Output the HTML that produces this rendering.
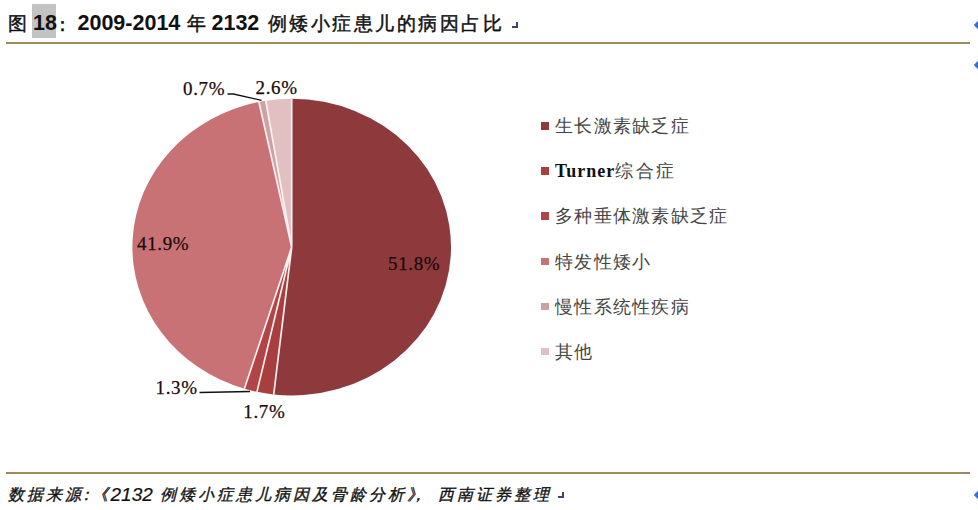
<!DOCTYPE html>
<html><head><meta charset="utf-8">
<style>
html,body{margin:0;padding:0;background:#fff;}
body{width:978px;height:510px;position:relative;overflow:hidden;font-family:"Liberation Sans",sans-serif;}
.t{position:absolute;white-space:nowrap;line-height:1;}
.tb{font-weight:bold;color:#111;}
.tc{font-size:19px;letter-spacing:2.5px;font-weight:normal;-webkit-text-stroke:0.45px #111;}
.td{font-size:21.5px;}
.hl{position:absolute;left:32px;top:4px;width:24px;height:34px;background:#c3c3c3;}
.rule{position:absolute;height:2px;background:linear-gradient(90deg,#8e8a70 0,#9f8e58 6px,#9f8e58 954px,#8a8a78 964px);}
.fi{font-style:italic;color:#111;}
.fc{font-size:16px;letter-spacing:3px;-webkit-text-stroke:0.35px #111;}
.fd{font-size:19px;-webkit-text-stroke:0.2px #111;}
.pm{position:absolute;width:4px;height:4px;border-right:2px solid #3a4868;border-bottom:2px solid #3a4868;}
.dia{position:absolute;width:6px;height:6px;background:#3572cc;transform:rotate(45deg);}
svg{position:absolute;left:0;top:0;}
.lbl{font-family:"Liberation Serif",serif;font-size:19px;fill:#1a0a0a;letter-spacing:0.65px;stroke:#1a0a0a;stroke-width:0.25px;}
.leg{font-size:18px;color:#444;letter-spacing:1.3px;}
.sq{position:absolute;left:541px;width:7.5px;height:7.5px;}
</style></head><body>
<div class="hl"></div>
<div class="t tb tc" style="left:8px;top:14px;">图</div>
<div class="t tb td" style="left:33px;top:12.5px;">18</div>
<div class="t tb tc" style="left:52.5px;top:15px;">：</div>
<div class="t tb td" style="left:77.5px;top:12.5px;">2009-2014</div>
<div class="t tb tc" style="left:186.5px;top:14px;">年</div>
<div class="t tb td" style="left:211.5px;top:12.5px;">2132</div>
<div class="t tb tc" style="left:267.5px;top:14px;">例矮小症患儿的病因占比</div>
<div class="pm" style="left:512px;top:22px;"></div>
<div class="rule" style="left:6px;top:42px;width:964px;"></div>
<div class="dia" style="left:975px;top:21.5px;"></div>
<div class="dia" style="left:975px;top:61.5px;"></div>

<svg width="978" height="510" viewBox="0 0 978 510">
 <g>
  <path fill="#8e3a3c" d="M291.7 247.1 L291.70 98.80 A159.3 148.3 0 1 1 273.72 394.45 Z"/>
  <path fill="#a83e3e" d="M291.7 247.1 L273.72 394.45 A159.3 148.3 0 0 1 256.95 391.83 Z"/>
  <path fill="#b04447" d="M291.7 247.1 L256.95 391.83 A159.3 148.3 0 0 1 244.38 388.71 Z"/>
  <path fill="#c87276" d="M291.7 247.1 L244.38 388.71 A159.3 148.3 0 0 1 258.91 101.98 Z"/>
  <path fill="#cba3a5" d="M291.7 247.1 L258.91 101.98 A159.3 148.3 0 0 1 265.79 100.77 Z"/>
  <path fill="#e2c0c2" d="M291.7 247.1 L265.79 100.77 A159.3 148.3 0 0 1 291.70 98.80 Z"/>
 </g>
 <path fill="none" stroke="#fff0f0" stroke-width="1.7" d="M291.7 247.1 L291.70 98.80 M291.7 247.1 L273.72 394.45 M291.7 247.1 L256.95 391.83 M291.7 247.1 L244.38 388.71 M291.7 247.1 L258.91 101.98 M291.7 247.1 L265.79 100.77"/>
 <g fill="none" stroke="#111" stroke-width="1.3">
  <path d="M227.5 94 L233.5 94 L261.5 100.3"/>
  <path d="M199.5 392.5 L250 391.5"/>
 </g>
 <text class="lbl" x="388" y="270.2">51.8%</text>
 <text class="lbl" x="137" y="250">41.9%</text>
 <text class="lbl" x="183" y="95.2">0.7%</text>
 <text class="lbl" x="255.5" y="93.5">2.6%</text>
 <text class="lbl" x="155.5" y="394.2">1.3%</text>
 <text class="lbl" x="243.3" y="417.5">1.7%</text>
</svg>

<div class="sq" style="top:122px;background:#8e3a3c"></div><div class="t leg" style="left:555px;top:117px">生长激素缺乏症</div>
<div class="sq" style="top:167px;background:#a83e3e"></div><div class="t leg" style="left:555px;top:162px"><b style="font-family:'Liberation Serif',serif;color:#111;letter-spacing:1px">Turner</b><span style="letter-spacing:2.3px">综合症</span></div>
<div class="sq" style="top:212px;background:#b04447"></div><div class="t leg" style="left:555px;top:207px">多种垂体激素缺乏症</div>
<div class="sq" style="top:257.5px;background:#c87276"></div><div class="t leg" style="left:555px;top:253px">特发性矮小</div>
<div class="sq" style="top:302.5px;background:#cba3a5"></div><div class="t leg" style="left:555px;top:298px">慢性系统性疾病</div>
<div class="sq" style="top:347.5px;background:#e2c0c2"></div><div class="t leg" style="left:555px;top:343px">其他</div>

<div class="rule" style="left:6px;top:472px;width:964px;"></div>
<div class="t fi fc" style="left:7.5px;top:487px;">数据来源</div>
<div class="t fi fc" style="left:78px;top:487px;">：</div>
<div class="t fi fc" style="left:92px;top:487px;">《</div>
<div class="t fi fd" style="left:110.5px;top:485px;">2132</div>
<div class="t fi fc" style="left:159.5px;top:487px;">例矮小症患儿病因及骨龄分析</div>
<div class="t fi fc" style="left:407px;top:487px;">》</div>
<div class="t fi fc" style="left:410px;top:487px;">，</div>
<div class="t fi fc" style="left:438px;top:487px;">西南证券整理</div>
<div class="pm" style="left:558px;top:492px;"></div>
<div class="dia" style="left:975px;top:491.8px;"></div>
</body></html>
